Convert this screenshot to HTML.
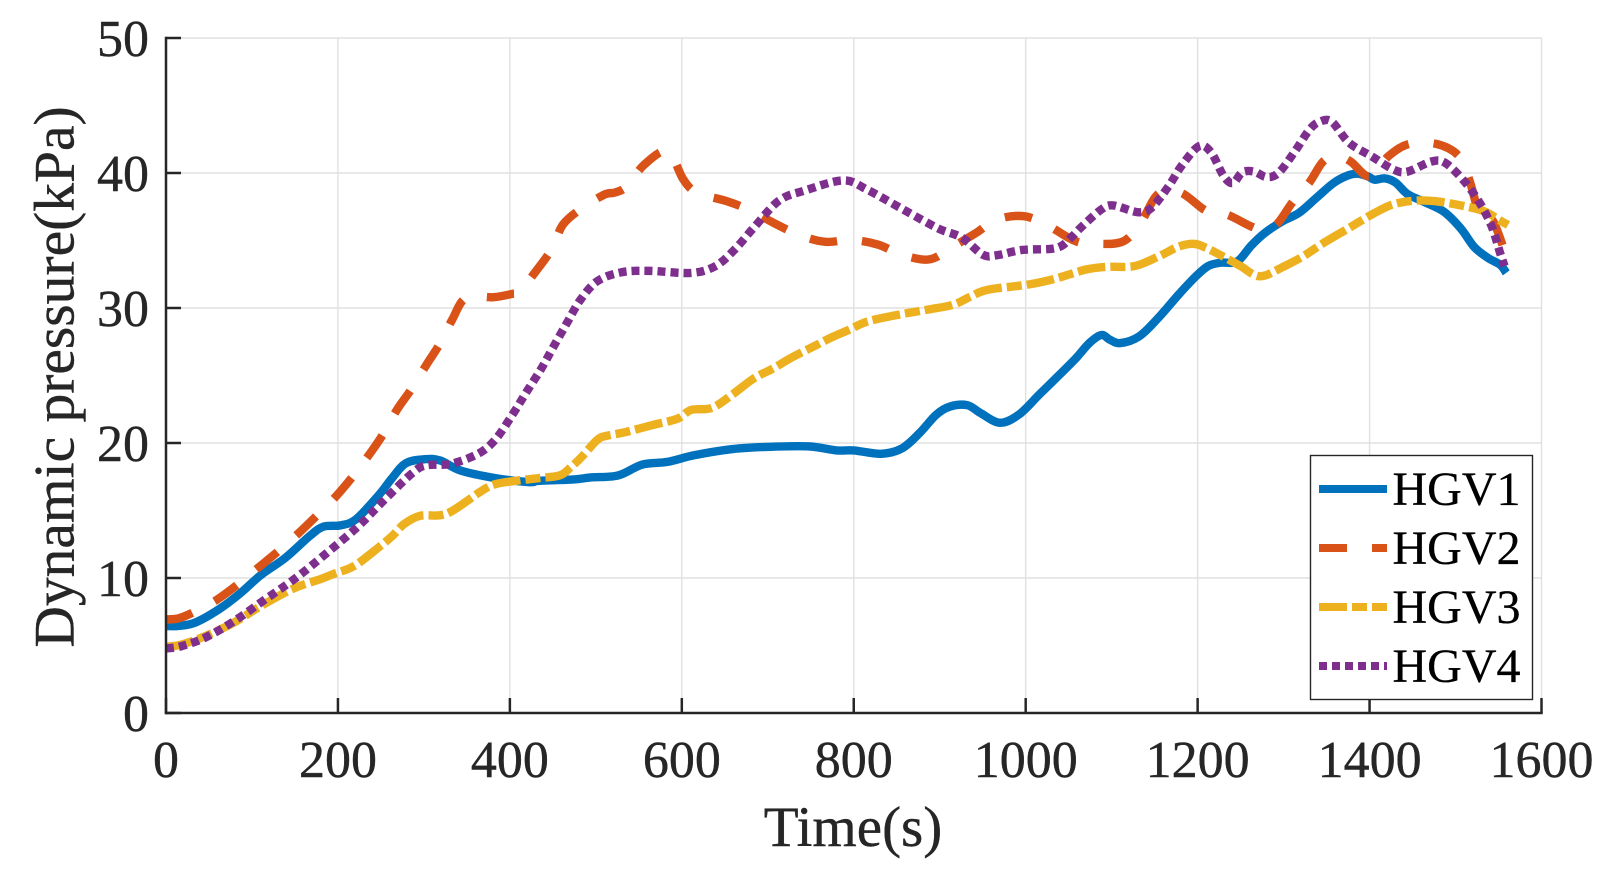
<!DOCTYPE html>
<html lang="en">
<head>
<meta charset="utf-8">
<title>Dynamic pressure vs time</title>
<style>
html,body{margin:0;padding:0;background:#fff;width:1615px;height:876px;overflow:hidden}
svg{display:block}
text{font-family:"Liberation Serif","Times New Roman",serif}
</style>
</head>
<body>
<svg id="chart" xmlns="http://www.w3.org/2000/svg" width="1615" height="876" viewBox="0 0 1615 876"></svg>
<script>
const xTicks = [0,200,400,600,800,1000,1200,1400,1600];
const yTicks = [0,10,20,30,40,50];
const seriesNames = ['HGV1','HGV2','HGV3','HGV4'];

const timesHgv1 = [0,14,34,62,87,110,139,167,183,203,221,247,263,279,301,319,343,383,423,434,474,494,526,554,583,615,659,695,747,780,800,832,856,876,896,912,932,948,970,992,1016,1040,1058,1074,1088,1098,1110,1132,1154,1178,1198,1212,1226,1246,1262,1278,1298,1318,1338,1358,1374,1386,1398,1406,1418,1430,1444,1462,1486,1506,1522,1538,1552,1559];
const valuesHgv1 = [6.45,6.45,6.7,7.7,8.9,10.2,11.5,13.1,13.8,13.9,14.35,16.1,17.4,18.5,18.8,18.7,17.95,17.4,17.1,17.2,17.3,17.45,17.6,18.4,18.6,19.1,19.55,19.7,19.75,19.45,19.45,19.2,19.6,20.7,22.1,22.7,22.8,22.2,21.5,22.1,23.6,25.1,26.25,27.4,28.0,27.65,27.4,27.9,29.25,31,32.35,33.1,33.35,33.45,34.6,35.55,36.4,37.05,38.15,39.25,39.8,39.95,39.75,39.5,39.6,39.3,38.45,37.9,37.15,35.9,34.5,33.7,33.2,32.6];

const timesHgv2 = [0,14,30,57,81,107,129,153,175,197,217,237,251,269,285,303,319,333,349,381,403,411,430,449,462,484,510,522,536,556,583,601,611,623,653,681,707,737,767,797,828,856,888,914,942,966,998,1026,1058,1084,1114,1134,1150,1162,1182,1206,1218,1235,1262,1276,1292,1310,1330,1346,1362,1378,1400,1422,1446,1478,1504,1516,1526,1534,1544,1558];
const valuesHgv2 = [6.93,7,7.4,8.3,9.4,10.75,11.9,13.25,14.6,16,17.5,19.2,20.5,22.5,23.95,25.8,27.4,29.15,30.75,30.8,31.05,31.2,32.7,34.4,36.2,37.4,38.4,38.55,39,40.6,41.6,39.6,38.8,38.4,37.9,37.2,36.3,35.4,34.9,35.05,34.7,33.95,33.6,34.5,35.55,36.55,36.8,36.1,34.95,34.75,34.95,36.35,38.15,38.65,38.5,37.35,37.05,36.9,36.05,35.8,36.2,37.8,39.3,40.85,41.25,40.85,39.75,41.25,42.15,42.15,41.25,39.5,37.3,36.65,36.4,34.05];

const timesHgv3 = [0,18,46,79,107,135,155,179,195,219,247,263,277,295,319,335,367,383,407,434,458,470,484,502,514,534,567,595,611,635,659,683,707,727,755,775,795,816,852,888,916,936,956,1004,1036,1070,1094,1126,1154,1178,1196,1210,1230,1250,1266,1278,1298,1322,1346,1374,1402,1426,1452,1478,1510,1534,1550,1561];
const valuesHgv3 = [4.9,5.07,5.7,6.7,7.8,8.8,9.4,9.9,10.3,10.9,12.25,13.1,14,14.6,14.65,15.05,16.45,16.95,17.2,17.4,17.6,18.15,19,20.25,20.55,20.8,21.35,21.8,22.45,22.6,23.6,24.75,25.55,26.3,27.2,27.85,28.4,29,29.5,29.9,30.25,30.85,31.35,31.75,32.2,32.85,33.05,33.1,33.8,34.55,34.75,34.45,33.8,33.1,32.45,32.4,33,33.8,34.8,35.85,36.9,37.65,37.95,37.9,37.55,37.15,36.55,36.15];

const timesHgv4 = [0,18,46,79,115,151,187,223,255,287,303,331,363,383,403,419,436,450,466,482,502,530,562,611,639,661,683,713,743,788,816,856,898,926,950,966,996,1036,1054,1064,1088,1102,1130,1146,1166,1182,1202,1216,1230,1241,1252,1266,1280,1294,1312,1330,1342,1356,1376,1402,1428,1444,1472,1488,1510,1528,1542,1552,1557];
const valuesHgv4 = [4.78,4.95,5.6,6.8,8.4,10,11.85,13.8,15.85,17.8,18.35,18.45,19.2,20.25,22.1,23.75,25.45,27.05,28.85,30.6,32,32.65,32.75,32.6,33.1,34.3,35.9,37.95,38.7,39.45,38.75,37.35,35.9,35.2,33.95,33.9,34.3,34.45,35.3,35.95,37.3,37.6,37.1,37.4,39,40.6,42,41.5,39.8,39.25,40.05,40.1,39.7,40,41.5,43.2,43.8,43.8,42.25,41.25,40.25,40.1,40.85,40.75,39.4,37.8,36.05,34.05,33.1];

const svgNS = 'http://www.w3.org/2000/svg';
const chart = document.getElementById('chart');
const plotLeft = 166, plotRight = 1541.5, plotTop = 38, plotBottom = 713;
const xMin = 0, xMax = 1600, yMin = 0, yMax = 50;
const axisColor = '#262626', gridColor = '#e0e0e0';

function xScale(t){ return plotLeft + (t - xMin) / (xMax - xMin) * (plotRight - plotLeft); }
function yScale(v){ return plotBottom - (v - yMin) / (yMax - yMin) * (plotBottom - plotTop); }

function make(tag, attrs, text){
  const el = document.createElementNS(svgNS, tag);
  for (const k in attrs) el.setAttribute(k, attrs[k]);
  if (text !== undefined) el.textContent = text;
  chart.appendChild(el);
  return el;
}

function smoothPath(ts, vs){
  const p = ts.map((t, i) => [xScale(t), yScale(vs[i])]);
  let d = 'M' + p[0][0].toFixed(2) + ' ' + p[0][1].toFixed(2);
  for (let i = 0; i < p.length - 1; i++){
    const a = p[Math.max(i - 1, 0)], b = p[i], c = p[i + 1], e = p[Math.min(i + 2, p.length - 1)];
    const c1x = b[0] + (c[0] - a[0]) / 6, c1y = b[1] + (c[1] - a[1]) / 6;
    const c2x = c[0] - (e[0] - b[0]) / 6, c2y = c[1] - (e[1] - b[1]) / 6;
    d += 'C' + c1x.toFixed(2) + ' ' + c1y.toFixed(2) + ' ' + c2x.toFixed(2) + ' ' + c2y.toFixed(2) + ' ' + c[0].toFixed(2) + ' ' + c[1].toFixed(2);
  }
  return d;
}

/* gridlines */
xTicks.forEach(function(t){
  const g = make('line', {x1:xScale(t), x2:xScale(t), y1:plotTop, y2:plotBottom, stroke:gridColor, 'stroke-width':1.4});
  
  
});
yTicks.forEach(function(v){
  const g = make('line', {x1:plotLeft, x2:plotRight, y1:yScale(v), y2:yScale(v), stroke:gridColor, 'stroke-width':1.4});
  
  
});

/* series */
const seriesStyles = [
  {color:'#0072BD', dash:'none'},
  {color:'#D95319', dash:'27.5 25'},
  {color:'#EDB120', dash:'28 5 15 5'},
  {color:'#7E2F8E', dash:'8 5'}
];
const seriesTimes = [timesHgv1, timesHgv2, timesHgv3, timesHgv4];
const seriesValues = [valuesHgv1, valuesHgv2, valuesHgv3, valuesHgv4];
seriesNames.forEach(function(name, i){
  const line = make('path', {d:smoothPath(seriesTimes[i], seriesValues[i]), fill:'none', stroke:seriesStyles[i].color, 'stroke-width':8.4, 'stroke-dasharray':seriesStyles[i].dash, 'stroke-linejoin':'round'});
  
  
});

/* axes */
const xAxisLine = make('line', {x1:plotLeft - 1.2, x2:plotRight + 1.2, y1:plotBottom, y2:plotBottom, stroke:axisColor, 'stroke-width':2.5});


const yAxisLine = make('line', {x1:plotLeft, x2:plotLeft, y1:plotTop - 1.2, y2:plotBottom + 1.2, stroke:axisColor, 'stroke-width':2.5});



xTicks.forEach(function(t){
  const tick = make('line', {x1:xScale(t), x2:xScale(t), y1:plotBottom, y2:plotBottom - 15, stroke:axisColor, 'stroke-width':2.5});
  
  
  const label = make('text', {x:xScale(t), y:777, 'text-anchor':'middle', 'font-size':52, fill:axisColor, stroke:axisColor, 'stroke-width':0.4}, String(t));
  
  
});
yTicks.forEach(function(v){
  const tick = make('line', {x1:plotLeft, x2:plotLeft + 15, y1:yScale(v), y2:yScale(v), stroke:axisColor, 'stroke-width':2.5});
  
  
  const label = make('text', {x:149, y:yScale(v) + 18, 'text-anchor':'end', 'font-size':52, fill:axisColor, stroke:axisColor, 'stroke-width':0.4}, String(v));
  
  
});

/* axis titles */
const xTitle = make('text', {x:853, y:846, 'text-anchor':'middle', 'font-size':57, fill:axisColor, stroke:axisColor, 'stroke-width':0.4}, 'Time(s)');


const yTitle = make('text', {x:0, y:0, transform:'translate(73.5 377) rotate(-90)', 'text-anchor':'middle', 'font-size':57.5, fill:axisColor, stroke:axisColor, 'stroke-width':0.4}, 'Dynamic pressure(kPa)');



/* legend */
const legendBox = make('rect', {x:1310.5, y:455.5, width:222, height:244, fill:'#fff', stroke:axisColor, 'stroke-width':1.4});


seriesNames.forEach(function(name, i){
  const rowY = 489 + i * 59;
  const sample = make('line', {x1:1319, x2:1387, y1:rowY, y2:rowY, stroke:seriesStyles[i].color, 'stroke-width':8, 'stroke-dasharray':seriesStyles[i].dash === 'none' ? 'none' : (i === 1 ? '28 25' : seriesStyles[i].dash)});
  
  
  const label = make('text', {x:1392.5, y:rowY + 16, 'font-size':48, fill:'#000', stroke:'#000', 'stroke-width':0.3}, name);
  
  
});
</script>
</body>
</html>
